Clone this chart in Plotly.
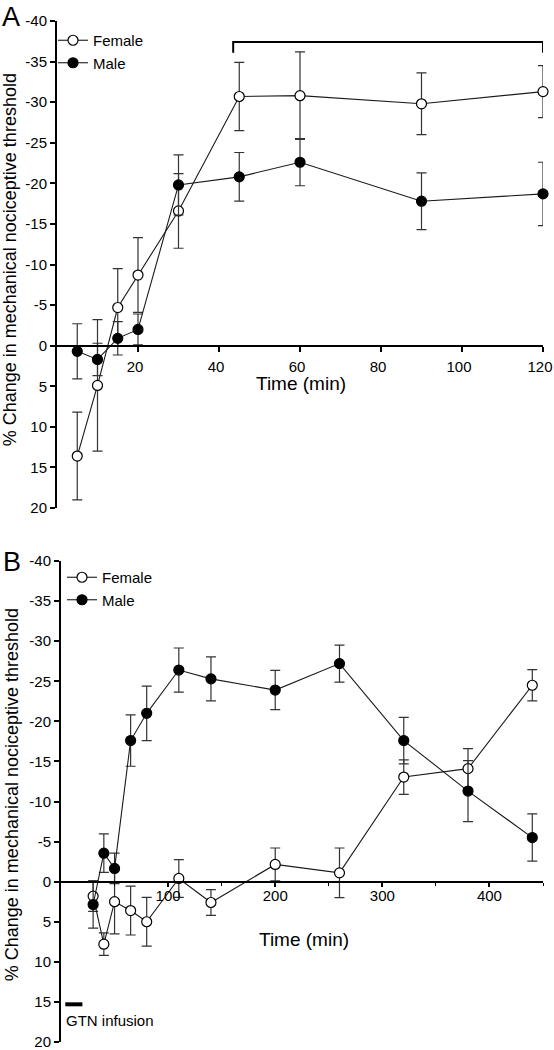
import plotly.graph_objects as go

# ---------------- data ----------------
# Panel A
time_a = [5, 10, 15, 20, 30, 45, 60, 90, 120]
female_a = [13.6, 4.9, -4.7, -8.7, -16.6, -30.7, -30.8, -29.8, -31.3]
female_a_err = [5.4, 8.1, 4.8, 4.6, 4.6, 4.2, 5.4, 3.8, 3.2]
male_a = [0.7, 1.7, -0.9, -2.0, -19.8, -20.8, -22.6, -17.8, -18.7]
male_a_err = [3.4, 2.0, 2.05, 1.9, 3.7, 3.0, 2.9, 3.5, 3.9]

# Panel B
time_b = [30, 40, 50, 65, 80, 110, 140, 200, 260, 320, 380, 440]
female_b = [1.8, 7.8, 2.5, 3.6, 5.0, -0.4, 2.6, -2.15, -1.1, -13.05, -14.1, -24.5]
female_b_err = [1.9, 1.4, 4.0, 3.05, 3.05, 2.35, 1.6, 2.05, 3.1, 2.15, 2.5, 1.95]
male_b = [2.85, -3.55, -1.65, -17.6, -21.0, -26.4, -25.3, -23.9, -27.2, -17.6, -11.3, -5.5]
male_b_err = [2.95, 2.4, 1.9, 3.2, 3.4, 2.75, 2.75, 2.45, 2.3, 2.9, 3.8, 2.95]

y_ticks = list(range(-40, 25, 5))
y_ticktext = [str(v) for v in y_ticks]
xa_ticks = [20, 40, 60, 80, 100, 120]
xb_ticks = [100, 200, 300, 400]
xb_minor = [50, 150, 250, 350, 450]

y_title = "% Change in mechanical nociceptive threshold"
x_title = "Time (min)"

# ---------------- layout constants ----------------
W, H = 554, 1050
FONT = "Liberation Sans, Arial, sans-serif"

def px_x(p):
    return p / W

def px_y(p):
    return 1 - p / H

dom_xa = [px_x(57), px_x(543)]
dom_ya = [px_y(508), px_y(21)]
dom_xb = [px_x(61), px_x(543)]
dom_yb = [px_y(1042), px_y(561)]

def zero_pos(dom):
    # y range is [20, -40]; value 0 sits 20/60 of the way up
    return dom[0] + (20 / 60) * (dom[1] - dom[0])

fig = go.Figure()

def add_series(x, y, err, name, filled, xa, ya, legend, show):
    fig.add_trace(go.Scatter(
        x=x, y=y, name=name, mode="lines+markers",
        xaxis=xa, yaxis=ya, legend=legend, showlegend=show,
        line=dict(color="#1a1a1a", width=1.1),
        marker=dict(size=10, symbol="circle",
                    color="black" if filled else "white",
                    line=dict(color="black", width=1.2)),
        error_y=dict(type="data", array=err, visible=True,
                     color="#333333", thickness=1.2, width=5),
        cliponaxis=False,
    ))

add_series(time_a, female_a, female_a_err, "Female", False, "x", "y", "legend", True)
add_series(time_a, male_a, male_a_err, "Male", True, "x", "y", "legend", True)
add_series(time_b, female_b, female_b_err, "Female", False, "x2", "y2", "legend2", True)
add_series(time_b, male_b, male_b_err, "Male", True, "x2", "y2", "legend2", True)

axis_common = dict(showgrid=False, zeroline=False, showline=True,
                   automargin=False, ticklabeloverflow="allow",
                   linecolor="black", linewidth=2, ticks="outside",
                   tickcolor="black", tickwidth=1.5,
                   tickfont=dict(family=FONT, size=15, color="black"))

fig.update_layout(
    width=W, height=H,
    margin=dict(l=0, r=0, t=0, b=0, autoexpand=False),
    paper_bgcolor="white", plot_bgcolor="white",
    font=dict(family=FONT, color="black"),
    xaxis=dict(domain=dom_xa, range=[0, 120], anchor="free",
               position=zero_pos(dom_ya), tickmode="array",
               tickvals=xa_ticks, ticklen=5, ticklabelstandoff=2,
               ticklabelshift=-3, **axis_common),
    yaxis=dict(domain=dom_ya, range=[20, -40], anchor="x",
               tickmode="array", tickvals=y_ticks, ticktext=y_ticktext,
               ticklen=5, **axis_common),
    xaxis2=dict(domain=dom_xb, range=[0, 450], anchor="free",
                position=zero_pos(dom_yb), tickmode="array",
                tickvals=xb_ticks, ticklen=4, ticklabelstandoff=-4,
                minor=dict(tickmode="array", tickvals=xb_minor, ticklen=3,
                           ticks="outside", tickcolor="black", tickwidth=1.2),
                **axis_common),
    yaxis2=dict(domain=dom_yb, range=[20, -40], anchor="x2",
                tickmode="array", tickvals=y_ticks, ticktext=y_ticktext,
                ticklen=5, **axis_common),
    legend=dict(x=px_x(53), y=px_y(24), xanchor="left", yanchor="top",
                bgcolor="rgba(0,0,0,0)", font=dict(family=FONT, size=15),
                itemwidth=30, tracegroupgap=0),
    legend2=dict(x=px_x(62), y=px_y(561), xanchor="left", yanchor="top",
                 bgcolor="rgba(0,0,0,0)", font=dict(family=FONT, size=15),
                 itemwidth=30, tracegroupgap=0),
)

# significance bracket in panel A
br_x0, br_x1, br_y, br_tip = 43.5, 120, -37.4, -36.1
fig.add_shape(type="path", xref="x", yref="y",
              path=f"M {br_x0},{br_tip} L {br_x0},{br_y} L {br_x1},{br_y} L {br_x1},{br_tip}",
              line=dict(color="black", width=2))

# GTN infusion bar in panel B
gtn_x0, gtn_x1, gtn_y = 4, 20, 15.3
fig.add_shape(type="line", xref="x2", yref="y2", x0=gtn_x0, x1=gtn_x1,
              y0=gtn_y, y1=gtn_y, line=dict(color="black", width=4))

annots = [
    dict(text="A", x=px_x(0), y=px_y(0), xanchor="left", yanchor="top",
         font=dict(size=27)),
    dict(text="B", x=px_x(1), y=px_y(545), xanchor="left", yanchor="top",
         font=dict(size=27)),
    dict(text=y_title, x=px_x(10), y=(dom_ya[0] + dom_ya[1]) / 2 + 0.004,
         textangle=-90, xanchor="center", yanchor="middle", font=dict(size=18)),
    dict(text=y_title, x=px_x(12), y=(dom_yb[0] + dom_yb[1]) / 2 + 0.006,
         textangle=-90, xanchor="center", yanchor="middle", font=dict(size=18)),
    dict(text=x_title, x=px_x(301), y=px_y(383), xanchor="center",
         yanchor="middle", font=dict(size=19)),
    dict(text=x_title, x=px_x(304), y=px_y(939), xanchor="center",
         yanchor="middle", font=dict(size=19)),
    dict(text="GTN infusion", x=px_x(64), y=px_y(1020), xanchor="left",
         yanchor="middle", font=dict(size=15)),
]
for a in annots:
    a.update(xref="paper", yref="paper", showarrow=False)
    a["font"] = dict(family=FONT, color="black", **a["font"])
    fig.add_annotation(**a)

fig.write_html("out.html", config={"displayModeBar": False},
               post_script="document.body.style.margin='0';document.body.style.overflow='hidden';")
